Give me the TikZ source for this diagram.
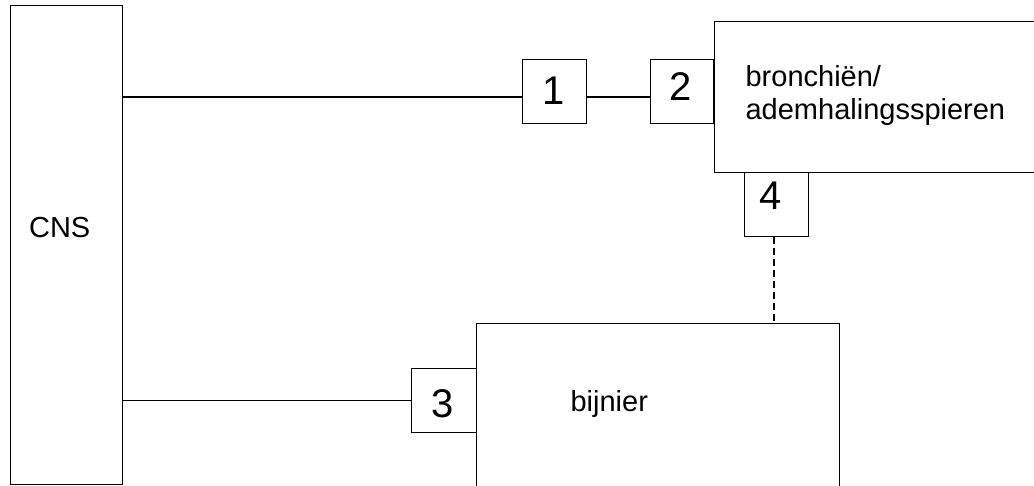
\documentclass[tikz,border=0pt]{standalone}
\usepackage{fontspec}
\setmainfont{Liberation Sans}
\begin{document}
\begin{tikzpicture}[x=1pt,y=-1pt,line width=1.2pt,
  box/.style={draw,line width=1.2pt,inner sep=0pt,anchor=north west},
  txt/.style={font=\fontsize{29}{33}\selectfont,inner sep=0pt,anchor=base west},
  num/.style={font=\fontsize{40}{44}\selectfont,inner sep=0pt},
  dashline/.style={dash pattern=on 7pt off 4pt}]
\useasboundingbox (0,0) rectangle (1034,486);
\clip (0,0) rectangle (1034,486);
% boxes
\node[box,minimum width=112pt,minimum height=479pt] (cns) at (10,5) {};
\node[box,minimum width=64pt,minimum height=64pt] (b1) at (522,59) {};
\node[box,minimum width=63pt,minimum height=64pt] (b2) at (650,59) {};
\node[box,minimum width=340pt,minimum height=151pt] (bron) at (714,21) {};
\node[box,minimum width=64pt,minimum height=64pt] (b4) at (744,172) {};
\node[box,minimum width=363pt,minimum height=200pt] (bij) at (476,323) {};
\node[box,minimum width=65pt,minimum height=64pt] (b3) at (411,368) {};
% texts
\node[txt] (cnst) at (28.5,238) {CNS};
\node[txt] (bront1) at (745,87) {bronchiën/};
\node[txt] (bront2) at (745,120) {ademhalingsspieren};
\node[txt] (bijt) at (570,411) {bijnier};
\node[num] (n1) at (554,91) {1};
\node[num] (n2) at (681,87) {2};
\node[num] (n3) at (443,404) {3};
\node[num] (n4) at (771,196) {4};
% connectors
\coordinate (y1) at (0,97);
\draw (cns.east |- y1) -- (b1.west |- y1);
\draw (b1.east |- y1) -- (b2.west |- y1);
\draw (cns.east |- b3.west) -- (b3.west);
\draw[dashline] (b4.south -| 774,0) -- (bij.north -| 774,0);
\end{tikzpicture}
\end{document}
